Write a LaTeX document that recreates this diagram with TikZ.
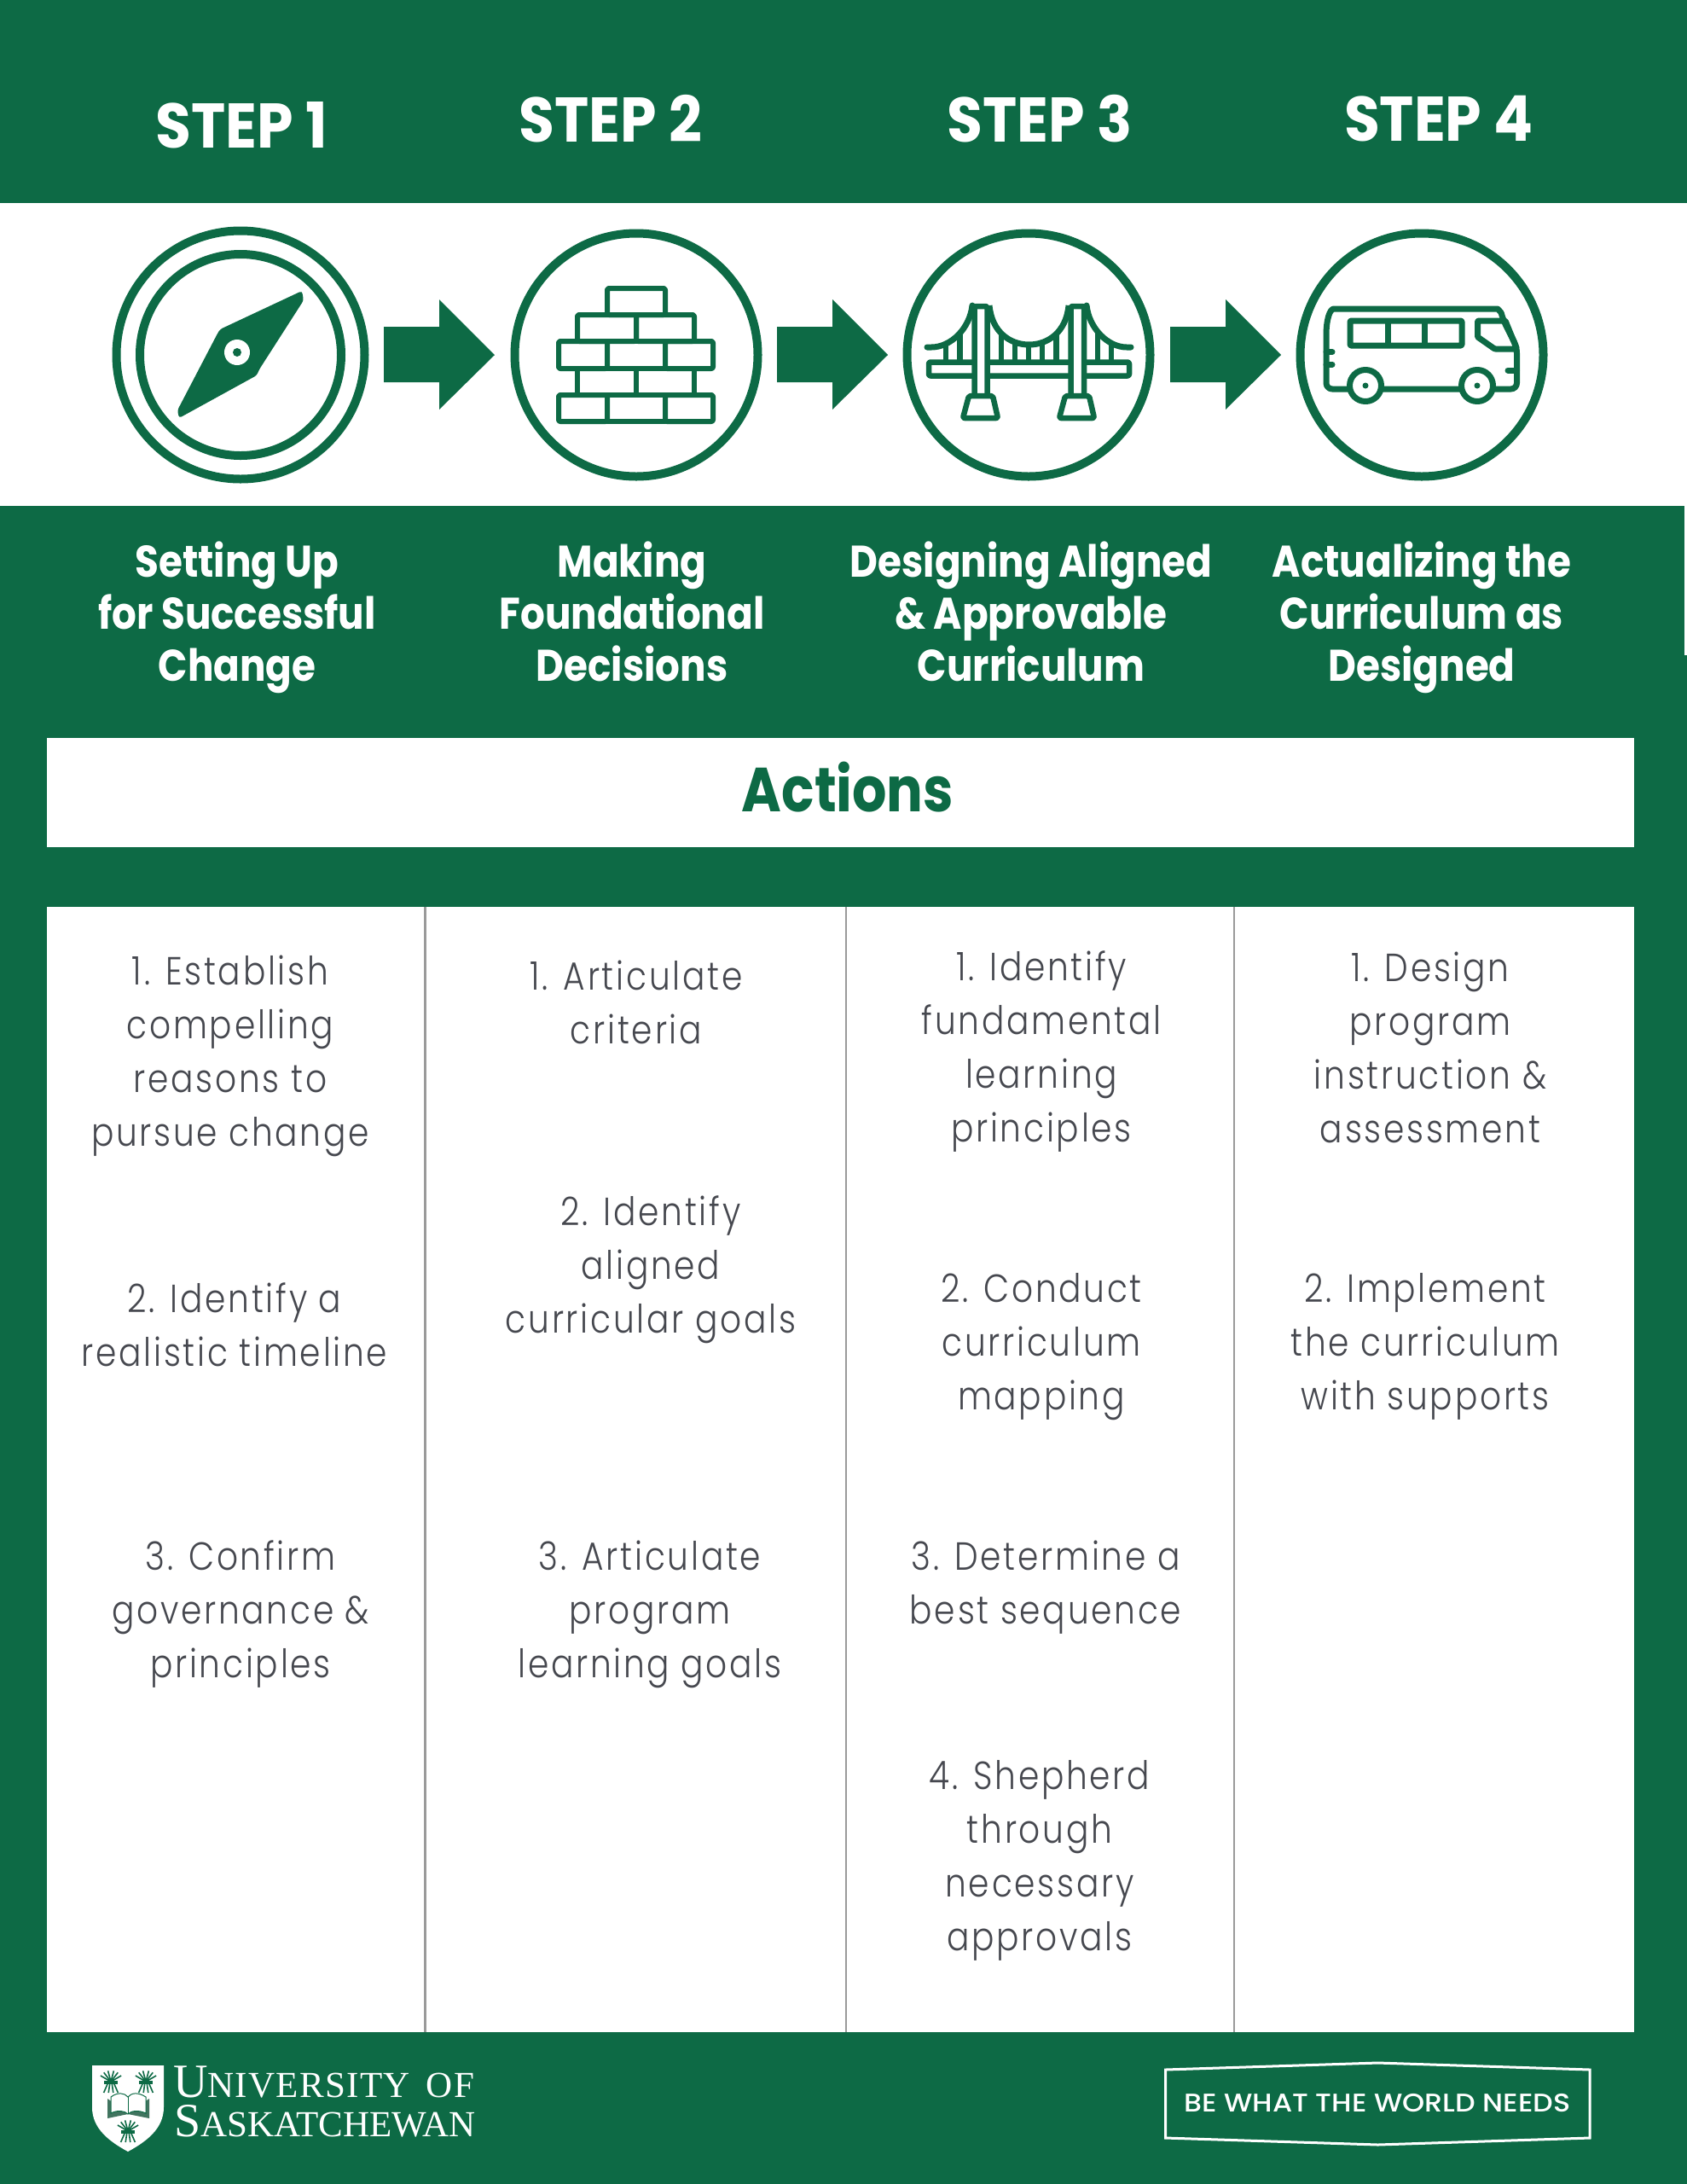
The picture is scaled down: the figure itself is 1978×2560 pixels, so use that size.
\documentclass[tikz,border=0pt]{standalone}
\usepackage{fontspec}
\setmainfont{Poppins}
\newfontfamily\bodyfont{Poppins Light}[FakeStretch=0.85,LetterSpace=6]
\newfontfamily\headfont{Poppins}[UprightFont=*-Bold,FakeStretch=0.87]
\newfontfamily\stepfont{Poppins}[UprightFont=*-Bold,FakeStretch=0.92]
\newfontfamily\tagfont{Poppins Medium}[FakeStretch=1.11]
\newfontfamily\serif{Liberation Serif}
\newfontfamily\serifwide{Liberation Serif}[LetterSpace=3]
\definecolor{usgreen}{HTML}{0D6A45}
\definecolor{bodygrey}{HTML}{46484F}
\definecolor{rulegrey}{HTML}{9A9A9A}
\tikzset{
  stepnode/.style={text=white,font=\stepfont\fontsize{74}{76}\selectfont,inner sep=0pt},
  subnode/.style={text=white,align=center,font=\headfont\fontsize{52}{61}\selectfont,inner sep=0pt},
  itemnode/.style={text=bodygrey,align=center,font=\bodyfont\fontsize{46}{63}\selectfont,inner sep=0pt},
  icon/.style={draw=usgreen,line width=6pt,line join=round},
  ring/.style={circle,draw=usgreen,line width=10pt,fill=white,inner sep=0pt},
}
\newcommand{\blockarrow}[1]{\fill[usgreen] (#1,383) -- ++(65,0) -- ++(0,-32) -- ++(65,65) -- ++(-65,64) -- ++(0,-32) -- ++(-65,0) -- cycle;}
\begin{document}
\begin{tikzpicture}[x=1pt,y=-1pt]
\useasboundingbox (0,0) rectangle (1978,2560);
\fill[usgreen] (0,0) rectangle (1978,2560);
\fill[white] (0,238) rectangle (1978,593);
\fill[white] (1975,593) rectangle (1978,768);
\fill[white] (55,865) rectangle (1916,993);
\fill[white] (55,1063) rectangle (1916,2382);
\draw[rulegrey,line width=2.5pt] (498.5,1063) -- (498.5,2382);
\draw[rulegrey,line width=2.5pt] (992,1063) -- (992,2382);
\draw[rulegrey,line width=2.5pt] (1447,1063) -- (1447,2382);
% step headings
\node[stepnode] (s1) at (283,147) {STEP 1};
\node[stepnode] (s2) at (716,139) {STEP 2};
\node[stepnode] (s3) at (1219,139) {STEP 3};
\node[stepnode] (s4) at (1687,139) {STEP 4};
% rings
\node[ring,minimum size=291pt] (r1) at (282,416) {};
\node[ring,minimum size=236pt] (r1b) at (282,416) {};
\node[ring,minimum size=285pt] (r2) at (746,416) {};
\node[ring,minimum size=285pt] (r3) at (1206,416) {};
\node[ring,minimum size=285pt] (r4) at (1667,416) {};
\blockarrow{450}
\blockarrow{911}
\blockarrow{1372}
% compass
\fill[usgreen,rounded corners=3pt] (354,341) -- (356,352) -- (304,433) -- (301,440) -- (210,490) -- (208,481) -- (255,391) -- (258,386) -- cycle;
\fill[white] (278,413) circle (15);
\fill[usgreen] (278,413) circle (5);
% bricks
\begin{scope}[icon]
\draw[rounded corners=2pt] (712,338) rectangle (780,369);
\draw[rounded corners=2pt] (677,369) rectangle (746,400);
\draw[rounded corners=2pt] (746,369) rectangle (814,400);
\draw[rounded corners=2pt] (655,400) rectangle (712,432);
\draw (712,400) rectangle (780,432);
\draw[rounded corners=2pt] (780,400) rectangle (836,432);
\draw (677,432) rectangle (746,463);
\draw (746,432) rectangle (814,463);
\draw[rounded corners=2pt] (655,463) rectangle (712,494);
\draw (712,463) rectangle (780,494);
\draw[rounded corners=2pt] (780,463) rectangle (836,494);
\end{scope}
% bridge
\begin{scope}[icon,line width=6.5pt]
\begin{scope}
\clip (1090,406) .. controls (1115,406) and (1137,385) .. (1139,358) -- (1161,358) .. controls (1163,390) and (1185,404) .. (1206.5,404) .. controls (1228,404) and (1250,390) .. (1252,358) -- (1275,358) .. controls (1277,385) and (1299,406) .. (1324,406) -- (1324,425) -- (1090,425) -- cycle;
\foreach \h in {1109,1125.5,1174,1190,1206,1222,1238.6,1287,1303} {\draw (\h,360) -- (\h,425);}
\end{scope}
\draw[rounded corners=2pt] (1089,424.5) rectangle (1324,440.5);
\draw[line cap=round,line width=7pt] (1087,407) -- (1092,407) .. controls (1115,407) and (1137,385) .. (1140,358);
\draw[line width=7pt] (1160,358) .. controls (1163,390) and (1185,404) .. (1206.5,404) .. controls (1228,404) and (1250,390) .. (1253,358);
\draw[line cap=round,line width=7pt] (1326,407) -- (1321,407) .. controls (1299,407) and (1277,385) .. (1274,358);
\draw[fill=white,rounded corners=2pt] (1142.5,359) rectangle (1157.5,465);
\draw[fill=white,rounded corners=2pt] (1255.5,359) rectangle (1271,465);
\draw[fill=white,rounded corners=2pt] (1136,464) -- (1164,464) -- (1170,490) -- (1129,490) -- cycle;
\draw[fill=white,rounded corners=2pt] (1249,464) -- (1277,464) -- (1283,490) -- (1242,490) -- cycle;
\end{scope}
% bus
\begin{scope}[icon,line width=7pt]
\draw[rounded corners=7pt] (1555,400) .. controls (1555,375) and (1559,362) .. (1571,362) -- (1749,362) .. controls (1756,362) and (1760,366) .. (1762,374) -- (1778.5,407) -- (1778.5,456) -- (1555,456) -- cycle;
\draw[rounded corners=1pt] (1583,376) rectangle (1714,405);
\draw (1627,376) -- (1627,405);
\draw (1670,376) -- (1670,405);
\draw[rounded corners=1pt] (1732.5,376) -- (1765,376) -- (1778.5,409) -- (1752.5,409) -- (1732.5,395) -- cycle;
\draw[line cap=round] (1555,412.5) -- (1562,412.5);
\draw[line cap=round] (1555,427) -- (1562,427);
\draw[line cap=round] (1768,434) -- (1778.5,434);
\draw[fill=white] (1601,452) circle (18.5);
\draw[fill=white] (1732,452) circle (18.5);
\fill[usgreen] (1601,452) circle (3.5);
\fill[usgreen] (1732,452) circle (3.5);
\end{scope}
% subheadings
\node[subnode] (h1) at (278,724) {Setting Up\\for Successful\\Change};
\node[subnode] (h2) at (741,717) {Making\\Foundational\\Decisions};
\node[subnode] (h3) at (1209,717) {Designing Aligned\\\& Approvable\\Curriculum};
\node[subnode] (h4) at (1667,724) {Actualizing the\\Curriculum as\\Designed};
\node[text=usgreen,font=\headfont\fontsize{73}{75}\selectfont,inner sep=0pt] (act) at (994,923) {Actions};
% items
\node[itemnode] (a1) at (270,1238) {1. Establish\\compelling\\reasons to\\pursue change};
\node[itemnode] (a2) at (275,1553) {2. Identify a\\realistic timeline};
\node[itemnode] (a3) at (282,1892) {3. Confirm\\governance \&\\principles};
\node[itemnode] (b1) at (746,1175) {1. Articulate\\criteria};
\node[itemnode] (b2) at (763,1488) {2. Identify\\aligned\\curricular goals};
\node[itemnode] (b3) at (762,1892) {3. Articulate\\program\\learning goals};
\node[itemnode] (c1) at (1221,1233) {1. Identify\\fundamental\\learning\\principles};
\node[itemnode] (c2) at (1221,1579) {2. Conduct\\curriculum\\mapping};
\node[itemnode] (c3) at (1226,1861) {3. Determine a\\best sequence};
\node[itemnode] (c4) at (1219,2181) {4. Shepherd\\through\\necessary\\approvals};
\node[itemnode] (d1) at (1677,1228) {1. Design\\program\\instruction \&\\assessment};
\node[itemnode] (d2) at (1671,1578) {2. Implement\\the curriculum\\with supports};
% logo shield
\fill[white] (108,2421) -- (192,2421) -- (192,2470) .. controls (192,2495) and (172,2510) .. (150,2522) .. controls (128,2510) and (108,2495) .. (108,2470) -- cycle;
\foreach \cx/\cy in {130/2440,171/2440,150/2498} {
  \begin{scope}[shift={(\cx,\cy)},usgreen,line width=1.6pt]
  \foreach \a in {-60,-36,-14,14,36,60} {\draw (0,0) -- ++({14*sin(\a)},{-12*cos(\a)-1});}
  \fill (-8,-1) rectangle (8,3);
  \foreach \a in {-6,-2,2,6} {\draw (\a*.6,2) -- (\a*1.4,13);}
  \end{scope}
}
\fill[usgreen!55!gray] (126,2460) -- (150,2476) -- (175,2460) -- (175,2483) -- (150,2478) -- (126,2483) -- cycle;
\draw[usgreen,line width=1pt,fill=white] (130,2458) .. controls (138,2452) and (146,2453) .. (150,2458) .. controls (154,2453) and (162,2452) .. (171,2458) -- (171,2477) .. controls (162,2473) and (154,2474) .. (150,2478) .. controls (146,2474) and (138,2473) .. (130,2477) -- cycle;
\draw[usgreen,line width=1pt] (150,2458) -- (150,2478);
\node[anchor=base west,text=white,font=\serifwide,inner sep=0pt] (un1) at (203,2458) {\fontsize{56}{56}\selectfont U\fontsize{43}{43}\selectfont NIVERSITY\hspace{19pt}OF};
\node[anchor=base west,text=white,font=\serif,inner sep=0pt] (un2) at (204,2504) {\fontsize{56}{56}\selectfont S\fontsize{43}{43}\selectfont ASKATCHEWAN};
% tagline
\draw[white,line width=3pt] (1366.5,2426) -- (1615.5,2418) -- (1864,2426) -- (1864,2506) -- (1615.5,2514) -- (1366.5,2506) -- cycle;
\node[text=white,font=\tagfont\fontsize{30}{32}\selectfont,inner sep=0pt] (tag) at (1615,2465.5) {BE WHAT THE WORLD NEEDS};
\end{tikzpicture}
\end{document}
